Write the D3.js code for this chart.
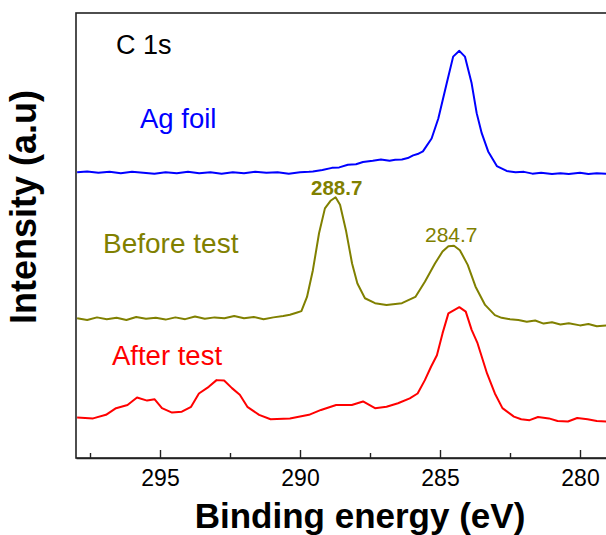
<!DOCTYPE html>
<html>
<head>
<meta charset="utf-8">
<script src="https://cdn.jsdelivr.net/npm/d3@7"></script>
<style>
    body { margin: 0; background: #fff; }
    svg { display: block; font-family: "Liberation Sans", Arial, sans-serif; }
</style>
</head>
<body>
<svg id="chart" width="606" height="535"></svg>
<script>
// --- DATA (binding energy in eV, intensity in a.u.) ---
const agEnergy = [297.96, 297.6, 297.2, 296.8, 296.4, 296.0, 295.6, 295.2, 294.8, 294.4, 294.0, 293.6, 293.2, 292.8, 292.4, 292.0, 291.6, 291.2, 290.8, 290.4, 290.0, 289.68, 289.54, 289.2, 288.86, 288.6, 288.29, 288.0, 287.75, 287.4, 287.11, 286.8, 286.6, 286.36, 286.15, 285.96, 285.8, 285.61, 285.30, 285.06, 284.76, 284.53, 284.31, 284.11, 283.87, 283.69, 283.51, 283.28, 282.97, 282.62, 282.3, 282.0, 281.7, 281.39, 281.0, 280.7, 280.4, 280.0, 279.7, 279.4, 279.07];
const agIntensity = [64.2, 64.4, 64.1, 64.3, 64.0, 64.3, 64.1, 63.9, 64.2, 64.0, 64.3, 64.0, 64.2, 63.9, 64.2, 64.0, 64.3, 64.1, 64.2, 63.9, 64.2, 64.3, 64.4, 64.7, 65.2, 65.3, 65.9, 66.0, 66.5, 66.8, 67.1, 66.8, 67.0, 67.1, 67.4, 68.0, 68.3, 68.9, 71.8, 76.3, 84.2, 90.2, 91.5, 90.2, 84.2, 77.5, 73.0, 68.9, 65.6, 64.5, 64.2, 64.3, 63.9, 64.1, 63.8, 64.0, 63.8, 64.1, 63.8, 64.0, 63.9];

const beforeEnergy = [297.96, 297.6, 297.25, 296.9, 296.55, 296.2, 295.85, 295.5, 295.15, 294.8, 294.45, 294.1, 293.75, 293.4, 293.05, 292.7, 292.35, 292.0, 291.65, 291.3, 290.95, 290.6, 290.36, 290.1, 289.95, 289.75, 289.54, 289.32, 289.11, 288.91, 288.73, 288.57, 288.36, 288.14, 287.95, 287.68, 287.32, 286.91, 286.36, 285.88, 285.54, 285.18, 284.91, 284.7, 284.5, 284.29, 284.01, 283.73, 283.39, 283.04, 282.8, 282.5, 282.2, 281.9, 281.6, 281.3, 281.0, 280.7, 280.4, 280.0, 279.7, 279.4, 279.07];
const beforeIntensity = [31.4, 31.0, 31.6, 31.2, 31.5, 31.0, 31.7, 31.3, 31.5, 31.1, 31.6, 31.2, 31.8, 31.3, 31.6, 31.4, 31.9, 31.4, 31.7, 31.2, 31.6, 31.9, 32.2, 32.7, 33.0, 36.2, 42.2, 50.5, 56.1, 57.8, 58.6, 56.9, 51.2, 43.7, 39.2, 35.9, 34.8, 34.4, 34.8, 36.2, 39.6, 43.7, 46.4, 47.6, 47.7, 46.7, 43.4, 38.5, 34.4, 32.1, 31.5, 31.2, 31.0, 30.6, 30.9, 30.2, 30.5, 30.0, 30.3, 29.8, 30.1, 29.6, 29.8];

const afterEnergy = [297.96, 297.39, 296.93, 296.57, 296.16, 295.82, 295.46, 295.19, 294.93, 294.57, 294.22, 293.89, 293.61, 293.26, 292.98, 292.71, 292.43, 292.15, 291.88, 291.46, 291.05, 290.36, 289.68, 289.25, 288.71, 288.15, 287.75, 287.32, 286.91, 286.5, 286.08, 285.8, 285.54, 285.32, 285.11, 284.91, 284.7, 284.31, 284.08, 283.87, 283.66, 283.32, 283.04, 282.77, 282.36, 282.1, 281.8, 281.5, 281.11, 280.8, 280.43, 280.1, 279.73, 279.4, 279.07];
const afterIntensity = [9.1, 8.9, 9.7, 11.2, 11.9, 13.6, 12.9, 13.2, 11.2, 10.2, 10.4, 11.5, 14.5, 16.0, 17.5, 17.4, 15.7, 14.2, 11.5, 9.7, 8.7, 8.9, 9.7, 10.8, 11.9, 11.9, 12.7, 11.2, 11.5, 12.3, 13.4, 14.5, 17.5, 20.5, 23.1, 28.0, 32.5, 33.9, 32.9, 28.8, 25.8, 19.0, 14.5, 11.2, 9.3, 8.7, 8.5, 9.2, 8.9, 8.3, 8.2, 9.0, 8.7, 8.3, 8.2];

const majorTicks = [295, 290, 285, 280];
const minorTicks = [297.5, 292.5, 287.5, 282.5];

const series = [
    { name: 'Ag foil', color: '#0000ff', energy: agEnergy, intensity: agIntensity },
    { name: 'Before test', color: '#808000', energy: beforeEnergy, intensity: beforeIntensity },
    { name: 'After test', color: '#ff0000', energy: afterEnergy, intensity: afterIntensity }
];

// --- CHART ---
const svg = d3.select('#chart');
const margin = { top: 13, left: 76 };
const plotW = 532;
const plotH = 445;

const x = d3.scaleLinear().domain([298, 279]).range([margin.left, margin.left + plotW]);
const y = d3.scaleLinear().domain([0, 100]).range([margin.top + plotH, margin.top]);

// frame
svg.append('rect')
    .attr('x', x(298)).attr('y', y(100))
    .attr('width', x(279) - x(298)).attr('height', y(0) - y(100))
    .attr('fill', 'none').attr('stroke', '#222').attr('stroke-width', 1.6);

// curves
const line = d3.line()
    .x(d => x(d[0]))
    .y(d => y(d[1]));

series.forEach(s => {
    const pts = s.energy.map((e, i) => [e, s.intensity[i]]);
    svg.append('path')
        .datum(pts)
        .attr('fill', 'none')
        .attr('stroke', s.color)
        .attr('stroke-width', 2)
        .attr('stroke-linejoin', 'round')
        .attr('d', line);
});

// bottom axis (inward ticks)
const xAxis = svg.append('g')
    .attr('transform', `translate(0,${y(0)})`)
    .call(d3.axisBottom(x).tickValues(majorTicks).tickSizeInner(-8).tickSizeOuter(0).tickPadding(12).tickFormat(d3.format('d')));
xAxis.select('.domain').attr('stroke', '#222').attr('stroke-width', 1.6);
xAxis.selectAll('.tick line').attr('stroke', '#222').attr('stroke-width', 1.4);
xAxis.selectAll('.tick text').attr('font-size', 23).attr('fill', '#000').attr('font-family', '"Liberation Sans", Arial, sans-serif');

const xMinor = svg.append('g')
    .attr('transform', `translate(0,${y(0)})`)
    .call(d3.axisBottom(x).tickValues(minorTicks).tickSizeInner(-5).tickSizeOuter(0).tickFormat(''));
xMinor.select('.domain').remove();
xMinor.selectAll('.tick line').attr('stroke', '#222').attr('stroke-width', 1.4);

// axis titles
svg.append('text')
    .attr('x', 360).attr('y', 528)
    .attr('text-anchor', 'middle')
    .attr('font-size', 35).attr('font-weight', 'bold')
    .text('Binding energy (eV)');

svg.append('text')
    .attr('transform', 'translate(36,207) rotate(-90)')
    .attr('text-anchor', 'middle')
    .attr('font-size', 36).attr('font-weight', 'bold')
    .text('Intensity (a.u)');

// annotations
svg.append('text').attr('x', 116).attr('y', 54).attr('font-size', 27).text('C 1s');
svg.append('text').attr('x', 140).attr('y', 128).attr('font-size', 27.5).attr('fill', '#0000ff').text('Ag foil');
svg.append('text').attr('x', 103).attr('y', 253).attr('font-size', 28).attr('fill', '#808000').text('Before test');
svg.append('text').attr('x', 112).attr('y', 365).attr('font-size', 27.5).attr('fill', '#ff0000').text('After test');
svg.append('text').attr('x', 311).attr('y', 195).attr('font-size', 20.5).attr('font-weight', 'bold').attr('fill', '#808000').text('288.7');
svg.append('text').attr('x', 425).attr('y', 242).attr('font-size', 21).attr('fill', '#808000').text('284.7');
</script>
</body>
</html>
